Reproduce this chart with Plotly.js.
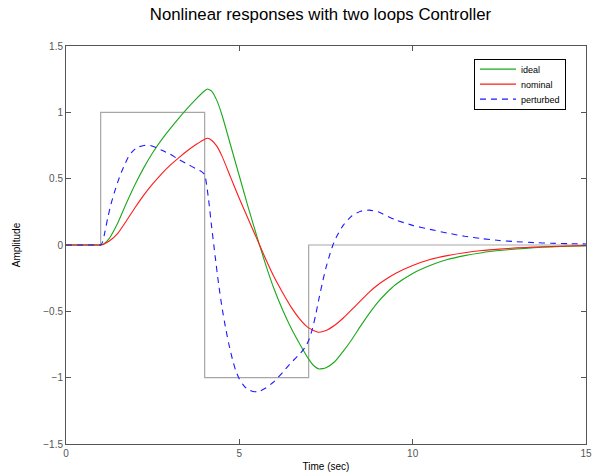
<!DOCTYPE html>
<html>
<head>
<meta charset="utf-8">
<script src="https://cdn.plot.ly/plotly-3.0.1.min.js"></script>
<style>
  html, body { margin: 0; padding: 0; background: #fff; }
  #plot { width: 599px; height: 474px; }
</style>
</head>
<body>
<div id="plot"></div>
<script>
// Reference pulse command
const refTime = [0, 1, 1, 4, 4, 7, 7, 15];
const refValue = [0, 0, 1, 1, -1, -1, 0, 0];

// Ideal closed-loop response
const idealTime = [0, 0.5, 0.9, 1, 1.1, 1.25, 1.5, 1.75, 2, 2.25, 2.5, 2.75, 3, 3.25, 3.5, 3.75, 4, 4.08, 4.2, 4.35, 4.5, 4.75, 5, 5.25, 5.5, 5.75, 6, 6.25, 6.5, 6.75, 7, 7.15, 7.3, 7.5, 7.75, 8, 8.25, 8.5, 8.75, 9, 9.25, 9.5, 10, 10.5, 11, 11.5, 12, 12.5, 13, 13.5, 14, 14.5, 15];
const idealValue = [0, 0, 0, 0, 0.01, 0.05, 0.17, 0.32, 0.46, 0.585, 0.695, 0.79, 0.875, 0.955, 1.03, 1.1, 1.163, 1.176, 1.16, 1.09, 0.98, 0.75, 0.52, 0.29, 0.07, -0.14, -0.33, -0.49, -0.63, -0.75, -0.86, -0.91, -0.935, -0.925, -0.88, -0.8, -0.71, -0.61, -0.515, -0.43, -0.36, -0.3, -0.215, -0.155, -0.11, -0.08, -0.058, -0.042, -0.03, -0.021, -0.014, -0.009, -0.006];

// Nominal plant response
const nominalTime = [0, 0.5, 0.9, 1, 1.1, 1.25, 1.5, 1.75, 2, 2.25, 2.5, 2.75, 3, 3.25, 3.5, 3.75, 4, 4.08, 4.2, 4.35, 4.5, 4.75, 5, 5.25, 5.5, 5.75, 6, 6.25, 6.5, 6.75, 7, 7.28, 7.5, 7.75, 8, 8.25, 8.5, 8.75, 9, 9.25, 9.5, 10, 10.5, 11, 11.5, 12, 12.5, 13, 13.5, 14, 14.5, 15];
const nominalValue = [0, 0, 0, 0, 0.008, 0.03, 0.09, 0.185, 0.285, 0.378, 0.46, 0.535, 0.6, 0.657, 0.71, 0.757, 0.798, 0.805, 0.79, 0.745, 0.67, 0.51, 0.35, 0.2, 0.05, -0.1, -0.24, -0.36, -0.47, -0.56, -0.625, -0.658, -0.645, -0.605, -0.55, -0.485, -0.42, -0.355, -0.3, -0.255, -0.215, -0.155, -0.11, -0.08, -0.058, -0.042, -0.031, -0.022, -0.016, -0.011, -0.008, -0.005];

// Perturbed plant response
const perturbedTime = [0, 0.5, 0.95, 1, 1.05, 1.1, 1.2, 1.3, 1.4, 1.5, 1.6, 1.7, 1.8, 1.9, 2, 2.1, 2.25, 2.4, 2.6, 2.8, 3, 3.25, 3.5, 3.75, 3.9, 4, 4.1, 4.2, 4.3, 4.4, 4.5, 4.6, 4.7, 4.8, 4.9, 5, 5.1, 5.2, 5.3, 5.4, 5.5, 5.6, 5.75, 6, 6.25, 6.5, 6.75, 6.9, 7, 7.1, 7.2, 7.3, 7.4, 7.5, 7.6, 7.7, 7.8, 8, 8.25, 8.5, 8.75, 9, 9.5, 10, 10.5, 11, 11.5, 12, 12.5, 13, 13.5, 14, 14.5, 15];
const perturbedValue = [0, 0, 0, 0, 0.02, 0.07, 0.2, 0.31, 0.4, 0.48, 0.55, 0.61, 0.665, 0.7, 0.725, 0.74, 0.75, 0.752, 0.735, 0.71, 0.685, 0.645, 0.61, 0.575, 0.555, 0.53, 0.37, 0.14, -0.08, -0.29, -0.47, -0.62, -0.75, -0.86, -0.95, -1.01, -1.05, -1.08, -1.095, -1.104, -1.106, -1.1, -1.08, -1.03, -0.96, -0.885, -0.82, -0.77, -0.72, -0.64, -0.53, -0.4, -0.28, -0.17, -0.08, 0.0, 0.06, 0.15, 0.22, 0.255, 0.263, 0.25, 0.19, 0.148, 0.118, 0.09, 0.066, 0.048, 0.034, 0.025, 0.018, 0.013, 0.01, 0.008];

const fontFamily = '"Liberation Sans", Arial, Helvetica, sans-serif';

const traces = [
  {
    x: refTime, y: refValue, mode: 'lines', showlegend: false, hoverinfo: 'skip',
    line: { color: '#a6a6a6', width: 1.2 }
  },
  {
    x: idealTime, y: idealValue, mode: 'lines', name: 'ideal',
    line: { color: '#1aa81a', width: 1.1, shape: 'spline', smoothing: 0.5 }
  },
  {
    x: nominalTime, y: nominalValue, mode: 'lines', name: 'nominal',
    line: { color: '#ff1a1a', width: 1.1, shape: 'spline', smoothing: 0.5 }
  },
  {
    x: perturbedTime, y: perturbedValue, mode: 'lines', name: 'perturbed',
    line: { color: '#1a1aff', width: 1.1, dash: '6px,5px', shape: 'spline', smoothing: 0.5 }
  }
];

const axisCommon = {
  showline: true, mirror: 'ticks', linecolor: '#555', linewidth: 1,
  ticks: 'inside', ticklen: 5, tickcolor: '#555', tickwidth: 1,
  showgrid: false, zeroline: false,
  tickfont: { family: fontFamily, size: 10, color: '#555' }
};

const layout = {
  width: 599, height: 474,
  margin: { l: 66, r: 13, t: 46, b: 30, pad: 0 },
  paper_bgcolor: '#fff', plot_bgcolor: '#fff',
  font: { family: fontFamily, color: '#000' },
  title: {
    text: 'Nonlinear responses with two loops Controller',
    font: { family: fontFamily, size: 16.8, color: '#000' },
    x: 0.535, xanchor: 'center', y: 0.971, yanchor: 'middle', yref: 'container'
  },
  xaxis: Object.assign({}, axisCommon, {
    range: [0, 15], tickvals: [0, 5, 10, 15], ticktext: ['0', '5', '10', '15'],
    title: { text: 'Time (sec)', font: { family: fontFamily, size: 10, color: '#000' }, standoff: 4 }
  }),
  yaxis: Object.assign({}, axisCommon, {
    range: [-1.5, 1.5], tickvals: [-1.5, -1, -0.5, 0, 0.5, 1, 1.5],
    ticktext: ['\u22121.5', '\u22121', '\u22120.5', '0', '0.5', '1', '1.5'],
    title: { text: 'Amplitude', font: { family: fontFamily, size: 10, color: '#000' }, standoff: 20 }
  }),
  legend: {
    x: 0.9615, xanchor: 'right', y: 0.967, yanchor: 'top',
    bgcolor: '#fff', bordercolor: '#000', borderwidth: 1,
    font: { family: fontFamily, size: 9, color: '#000' },
    tracegroupgap: 0, itemwidth: 36
  },
  showlegend: true
};

Plotly.newPlot('plot', traces, layout, { displayModeBar: false, staticPlot: true }).then(function (gd) {
  // Tighten the legend rows to a 15px pitch and shrink its frame accordingly
  const rowPitch = 15, firstRow = 10;
  const items = gd.querySelectorAll('.legend .traces');
  items.forEach(function (el, i) {
    const m = /translate\(([^,]+),\s*([^)]+)\)/.exec(el.getAttribute('transform') || '');
    const tx = m ? m[1] : '1';
    el.setAttribute('transform', 'translate(' + tx + ',' + (firstRow + rowPitch * i) + ')');
  });
  const bg = gd.querySelector('.legend rect.bg');
  if (bg) bg.setAttribute('height', String(firstRow * 2 + rowPitch * (items.length - 1)));
});
</script>
</body>
</html>
